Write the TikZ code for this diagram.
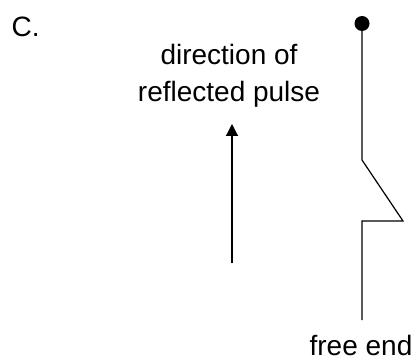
\documentclass[tikz,border=0pt]{standalone}
\usepackage{fontspec}
\setmainfont{Liberation Sans}
\usetikzlibrary{arrows.meta}

\begin{document}
\begin{tikzpicture}[
    x=1pt, y=-1pt,
    lbl/.style={inner sep=0pt, anchor=base, font=\fontsize{28}{36.7}\selectfont},
    strng/.style={line width=1.2pt, draw=black, line join=miter},
    arr/.style={line width=1.2pt, -{Triangle[width=12pt,length=12pt]}},
    knot/.style={circle, fill=black, inner sep=0pt, minimum size=15pt}
  ]
  \useasboundingbox (0,0) rectangle (419,363);
  \path (11.5,36.7) node(c) [lbl, anchor=base west] {C.}
  (229,65) node(dir) [lbl] {direction of}
  (229,101.7) node(refl) [lbl] {reflected pulse}
  (361,355) node(free) [lbl] {free end}
  (362,23.5) node(fix) [knot] {};

  \coordinate (atail) at (232,263);
  \coordinate (ahead) at (232,124);
  \draw[arr] (atail) -- (ahead);

  \coordinate (k1) at (362,160);
  \coordinate (k2) at (403,221);
  \coordinate (k3) at (362,221);
  \coordinate (send) at (362,320);
  \draw[strng] (fix.center) -- (k1) -- (k2) -- (k3) -- (send);
\end{tikzpicture}
\end{document}
